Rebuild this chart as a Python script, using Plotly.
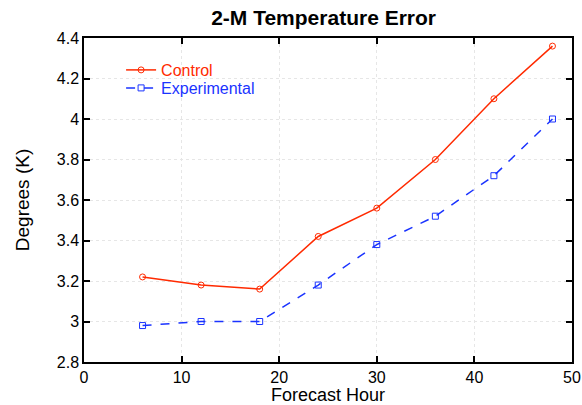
import plotly.graph_objects as go

hours = [6, 12, 18, 24, 30, 36, 42, 48]
control = [3.22, 3.18, 3.16, 3.42, 3.56, 3.80, 4.10, 4.36]
experimental = [2.98, 3.00, 3.00, 3.18, 3.38, 3.52, 3.72, 4.00]

red = "#ff2a00"
blue = "#1a33ff"

fig = go.Figure()
fig.add_trace(go.Scatter(x=hours, y=control, name="Control", mode="lines+markers",
                         line=dict(color=red, width=1.5), legend="legend",
                         marker=dict(symbol="circle-open", size=6, color=red, line=dict(width=1))))
fig.add_trace(go.Scatter(x=hours, y=experimental, name="Experimental", mode="lines+markers",
                         line=dict(color=blue, width=1.5, dash="dash"), legend="legend2",
                         marker=dict(symbol="square-open", size=6, color=blue, line=dict(width=1))))

font_family = "Arial, Liberation Sans, sans-serif"
axis_common = dict(showline=True, linecolor="black", linewidth=1.5, mirror="ticks",
                   ticks="inside", ticklen=6, tickcolor="black", tickwidth=1.5,
                   showgrid=True, gridcolor="#e6e6e6", griddash="dot", gridwidth=1,
                   zeroline=False, automargin=False,
                   tickfont=dict(size=16, color="black", family=font_family))

legend_common = dict(xanchor="left", yanchor="middle", bgcolor="rgba(0,0,0,0)",
                     tracegroupgap=0, xref="paper", yref="paper")

fig.update_layout(
    width=582, height=405,
    margin=dict(l=84, r=10, t=38, b=43),
    plot_bgcolor="white", paper_bgcolor="white",
    font=dict(family=font_family, color="black"),
    title=dict(text="<b>2-M Temperature Error</b>", xref="paper", x=0.491, xanchor="center",
               yref="container", y=0.957, yanchor="middle", automargin=False,
               font=dict(size=21, color="black", family=font_family)),
    xaxis=dict(range=[0, 50], dtick=10, tick0=0,
               title=dict(text="Forecast Hour", font=dict(size=18), standoff=3), **axis_common),
    yaxis=dict(range=[2.8, 4.4], dtick=0.2, tick0=2.8,
               title=dict(text="Degrees (K)", font=dict(size=19), standoff=22), **axis_common),
    legend=dict(x=0.076, y=1 - (70 - 38) / 324, font=dict(size=16, color=red), **legend_common),
    legend2=dict(x=0.076, y=1 - (88 - 38) / 324, font=dict(size=16, color=blue), **legend_common),
    showlegend=True,
)

fig.write_html("out.html", config={"displayModeBar": False},
               post_script="document.body.style.margin='0';document.body.style.padding='0';")
